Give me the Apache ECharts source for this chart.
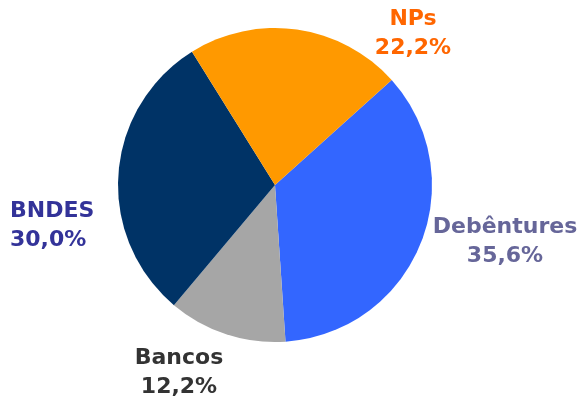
<!DOCTYPE html>
<html>
<head>
<meta charset="utf-8">
<script src="https://cdn.jsdelivr.net/npm/echarts@6/dist/echarts.min.js"></script>
<style>
  html, body { margin: 0; padding: 0; background: #fff; }
  #chart { width: 584px; height: 401px; }
</style>
</head>
<body>
<div id="chart"></div>
<script>
// dados (ordem horária a partir de Debêntures)
var categorias = ["Debêntures", "Bancos", "BNDES", "NPs"];
var valores = [35.6, 12.2, 30.0, 22.2];
var coresFatia = ["#3366FF", "#A6A6A6", "#003366", "#FF9900"];
var coresTexto = ["#666699", "#333333", "#333399", "#FF6600"];

// posição dos rótulos (x, y, alinhamento)
var posRotulo = [
    [505, 242, "center"],
    [179, 373, "center"],
    [10, 226, "left"],
    [413, 34, "center"]
];

var myChart = echarts.init(document.getElementById("chart"));

var dados = [];
for (var i = 0; i < categorias.length; i++) {
    dados.push({
        name: categorias[i],
        value: valores[i],
        itemStyle: { color: coresFatia[i] },
        label: { color: coresTexto[i] }
    });
}

var option = {
    animation: false,
    series: [{
        type: "pie",
        center: [275, 185],
        radius: 157,
        startAngle: 42,
        clockwise: true,
        data: dados,
        itemStyle: { borderWidth: 0 },
        label: {
            show: true,
            position: "outside",
            alignTo: "none",
            overflow: "none",
            bleedMargin: 0,
            formatter: function (p) {
                return p.name + "\n" + p.value.toFixed(1).replace(".", ",") + "%";
            },
            fontFamily: "DejaVu Sans",
            fontWeight: "bold",
            fontSize: 22,
            lineHeight: 29
        },
        labelLine: { show: false },
        labelLayout: function (params) {
            var p = posRotulo[params.dataIndex];
            return { x: p[0], y: p[1], align: p[2], verticalAlign: "middle" };
        }
    }]
};
myChart.setOption(option);
</script>
</body>
</html>
